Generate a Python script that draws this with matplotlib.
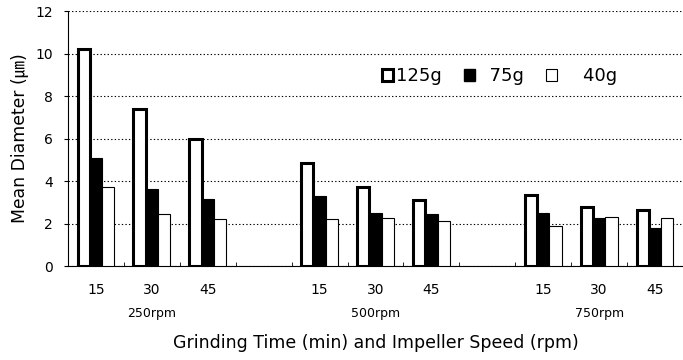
import numpy as np
import matplotlib
matplotlib.use("Agg")
import matplotlib.pyplot as plt
from matplotlib.patches import Patch

plt.rcParams['font.family'] = ['DejaVu Sans', 'Noto Sans CJK KR']

# Data
time_labels = ['15', '30', '45', '', '15', '30', '45', '', '15', '30', '45']
speed_labels = ['250rpm', '500rpm', '750rpm']
speed_slots = [1, 5, 9]
load_125g = [10.2, 7.38, 5.97, np.nan, 4.85, 3.74, 3.11, np.nan, 3.35, 2.77, 2.64]
load_75g = [5.1, 3.65, 3.14, np.nan, 3.3, 2.52, 2.45, np.nan, 2.5, 2.28, 1.79]
load_40g = [3.72, 2.47, 2.21, np.nan, 2.2, 2.26, 2.1, np.nan, 1.9, 2.31, 2.28]

x = np.arange(len(time_labels))
w = 0.22

fig = plt.figure(figsize=(6.83, 3.6), dpi=100)
ax = fig.add_axes([0.0996, 0.261, 0.9004, 0.708])

ax.bar(x - w, load_125g, w, facecolor='white', edgecolor='black', linewidth=2.2, zorder=3)
ax.bar(x, load_75g, w, facecolor='black', edgecolor='black', linewidth=0.8, zorder=3)
ax.bar(x + w, load_40g, w, facecolor='white', edgecolor='black', linewidth=0.8, zorder=3)

ax.set_xlim(-0.5, len(x) - 0.5)
ax.set_ylim(0, 12)
ax.set_yticks(np.arange(0, 13, 2))
ax.yaxis.grid(True, linestyle=(0, (1.2, 2)), color='black', linewidth=0.8)
ax.set_axisbelow(True)
for s in ['top', 'right']:
    ax.spines[s].set_visible(False)
ax.tick_params(axis='y', labelsize=10, length=3, direction='out', pad=8)

# time labels under each slot, minor ticks between slots
ax.set_xticks(x)
ax.set_xticklabels(time_labels, fontsize=10)
ax.tick_params(axis='x', which='major', length=0, pad=12)
ax.set_xticks(np.arange(0.5, len(x) - 0.5, 1), minor=True)
ax.tick_params(axis='x', which='minor', direction='in', length=3)
for xi, lab in zip(speed_slots, speed_labels):
    ax.annotate(lab, (xi, 0), xycoords=('data', 'axes fraction'), xytext=(0, -34),
                textcoords='offset points', ha='center', va='center', fontsize=9)

ax.set_xlabel('Grinding Time (min) and Impeller Speed (rpm)', fontsize=12.5, labelpad=27)
ax.set_ylabel('Mean Diameter (㎛)', fontsize=12.4)
ax.yaxis.set_label_coords(-0.065, 0.5)

handles = [Patch(facecolor='white', edgecolor='black', linewidth=2.2),
           Patch(facecolor='black', edgecolor='black'),
           Patch(facecolor='white', edgecolor='black', linewidth=0.8)]
ax.legend(handles, ['125g', '  75g', '    40g'], ncol=3, frameon=False, fontsize=13,
          loc='center left', bbox_to_anchor=(0.51, 0.745), borderpad=0, borderaxespad=0,
          handlelength=0.65, handleheight=0.65, handletextpad=0.15, columnspacing=1.2)

fig.savefig('out.png', dpi=100)
